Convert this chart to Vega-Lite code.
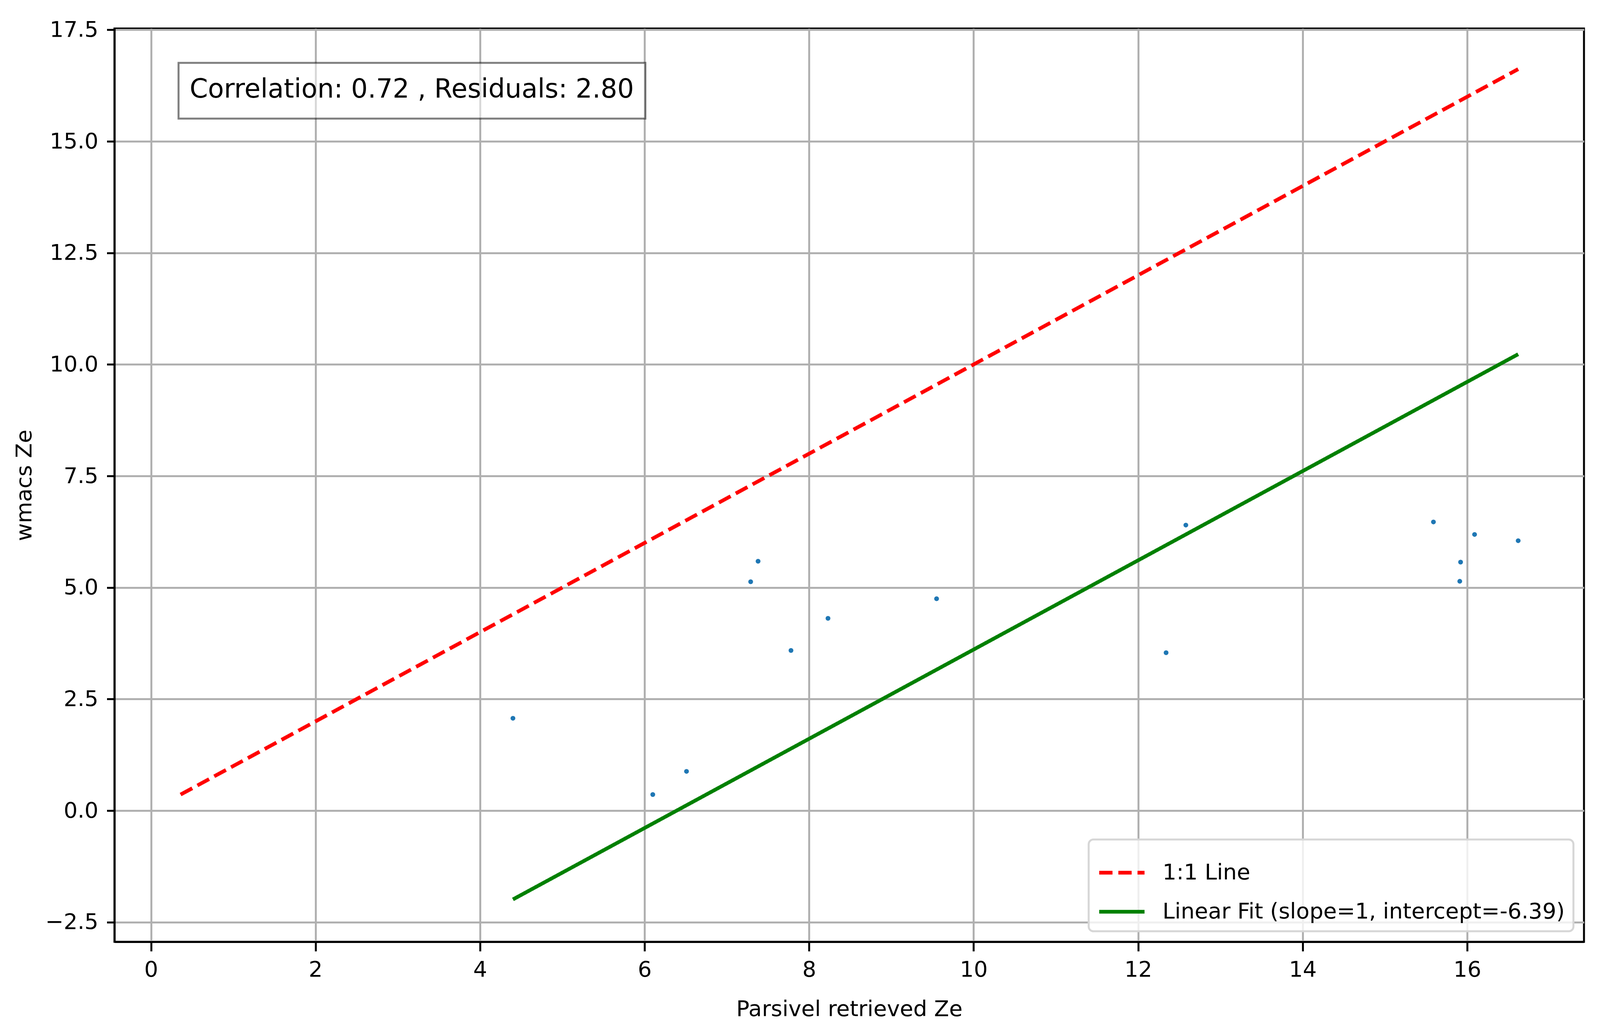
{
  "$schema": "https://vega.github.io/schema/vega-lite/v6.json",
  "width": 3762,
  "height": 2339,
  "autosize": {"type": "none"},
  "padding": {"left": 293, "top": 73, "right": 41, "bottom": 263},
  "background": "white",
  "config": {
    "font": "DejaVu Sans",
    "view": {"stroke": "black", "strokeWidth": 5},
    "axis": {
      "domainColor": "black",
      "domainWidth": 5,
      "tickColor": "black",
      "tickWidth": 5,
      "gridColor": "#b0b0b0",
      "gridWidth": 5,
      "labelFont": "DejaVu Sans",
      "labelFontSize": 56,
      "labelColor": "black",
      "labelFlush": false,
      "labelOverlap": false,
      "titleFont": "DejaVu Sans",
      "titleFontSize": 56,
      "titleFontWeight": "normal",
      "titleColor": "black"
    },
    "legend": {
      "labelFont": "DejaVu Sans",
      "labelFontSize": 56,
      "labelColor": "black",
      "labelLimit": 0,
      "strokeWidth": 5
    }
  },
  "datasets": {
    "points": [
      {"parsivel": 4.40, "wmacs": 2.07},
      {"parsivel": 6.10, "wmacs": 0.36},
      {"parsivel": 6.51, "wmacs": 0.88},
      {"parsivel": 7.29, "wmacs": 5.13},
      {"parsivel": 7.38, "wmacs": 5.59},
      {"parsivel": 7.78, "wmacs": 3.59},
      {"parsivel": 8.23, "wmacs": 4.31},
      {"parsivel": 9.55, "wmacs": 4.75},
      {"parsivel": 12.34, "wmacs": 3.54},
      {"parsivel": 12.58, "wmacs": 6.40},
      {"parsivel": 15.59, "wmacs": 6.47},
      {"parsivel": 15.91, "wmacs": 5.14},
      {"parsivel": 15.92, "wmacs": 5.57},
      {"parsivel": 16.09, "wmacs": 6.19},
      {"parsivel": 16.62, "wmacs": 6.05}
    ],
    "lines": [
      {"series": "1:1 Line", "parsivel": 0.36, "wmacs": 0.36},
      {"series": "1:1 Line", "parsivel": 16.62, "wmacs": 16.62},
      {"series": "Linear Fit (slope=1, intercept=-6.39)", "parsivel": 4.40, "wmacs": -1.99},
      {"series": "Linear Fit (slope=1, intercept=-6.39)", "parsivel": 16.62, "wmacs": 10.23}
    ],
    "note": [
      {"label": "Correlation: 0.72 , Residuals: 2.80", "x0": 0.335, "x1": 6.01, "y0": 15.51, "y1": 16.76, "tx": 0.47, "ty": 15.98}
    ]
  },
  "layer": [
    {
      "data": {"name": "lines"},
      "mark": {"type": "line", "strokeWidth": 9.5, "clip": true},
      "encoding": {
        "x": {
          "field": "parsivel",
          "type": "quantitative",
          "title": "Parsivel retrieved Ze",
          "scale": {"domain": [-0.444, 17.42], "nice": false, "zero": false},
          "axis": {
            "values": [0, 2, 4, 6, 8, 10, 12, 14, 16],
            "format": "d",
            "tickSize": 24,
            "labelPadding": 20,
            "titlePadding": 46
          }
        },
        "y": {
          "field": "wmacs",
          "type": "quantitative",
          "title": "wmacs Ze",
          "scale": {"domain": [-2.94, 17.53], "nice": false, "zero": false},
          "axis": {
            "values": [-2.5, 0, 2.5, 5, 7.5, 10, 12.5, 15, 17.5],
            "format": ".1f",
            "tickSize": 19.5,
            "labelPadding": 22,
            "titlePadding": 24
          }
        },
        "color": {
          "field": "series",
          "type": "nominal",
          "scale": {
            "domain": ["1:1 Line", "Linear Fit (slope=1, intercept=-6.39)"],
            "range": ["#ff0000", "#008000"]
          },
          "legend": {
            "title": null,
            "orient": "bottom-right",
            "offset": 27,
            "symbolType": "stroke",
            "symbolSize": 13456,
            "symbolStrokeWidth": 9.5,
            "fillColor": "rgba(255,255,255,0.8)",
            "strokeColor": "#d6d6d6",
            "cornerRadius": 12,
            "padding": 22,
            "rowPadding": 9,
            "labelOffset": 41
          }
        },
        "strokeDash": {
          "field": "series",
          "type": "nominal",
          "scale": {
            "domain": ["1:1 Line", "Linear Fit (slope=1, intercept=-6.39)"],
            "range": [[34, 15], [1, 0]]
          }
        }
      }
    },
    {
      "data": {"name": "points"},
      "mark": {"type": "circle", "size": 150, "color": "#1f77b4", "opacity": 1},
      "encoding": {
        "x": {"field": "parsivel", "type": "quantitative"},
        "y": {"field": "wmacs", "type": "quantitative"}
      }
    },
    {
      "data": {"name": "note"},
      "mark": {"type": "rect", "fill": "white", "fillOpacity": 0.5, "stroke": "black", "strokeOpacity": 0.5, "strokeWidth": 5},
      "encoding": {
        "x": {"field": "x0", "type": "quantitative"},
        "x2": {"field": "x1"},
        "y": {"field": "y0", "type": "quantitative"},
        "y2": {"field": "y1"}
      }
    },
    {
      "data": {"name": "note"},
      "mark": {"type": "text", "align": "left", "baseline": "alphabetic", "fontSize": 67, "font": "DejaVu Sans", "color": "black"},
      "encoding": {
        "x": {"field": "tx", "type": "quantitative"},
        "y": {"field": "ty", "type": "quantitative"},
        "text": {"field": "label"}
      }
    }
  ]
}
